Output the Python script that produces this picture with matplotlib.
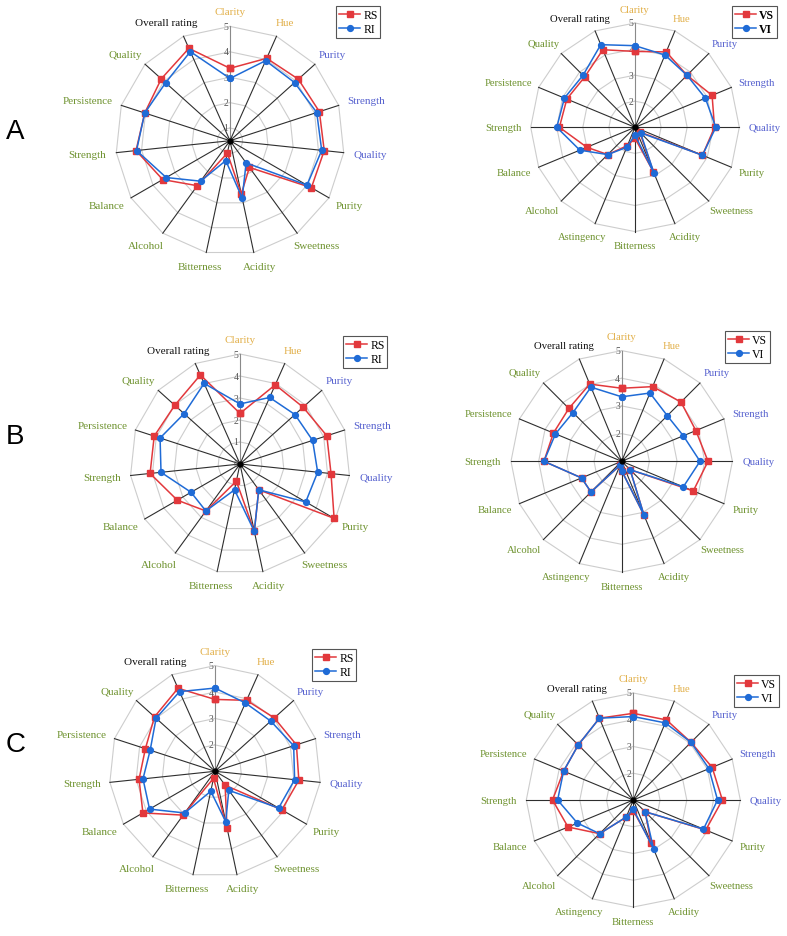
import numpy as np
import matplotlib
matplotlib.use('Agg')
import matplotlib.pyplot as plt
from matplotlib.transforms import offset_copy

W, H = 787, 937
fig = plt.figure(figsize=(W / 100, H / 100), dpi=100)
renderer = fig.canvas.get_renderer()

SERIF = ['Liberation Serif', 'DejaVu Serif']

# ---------------- data ----------------
cats_left = ["Clarity", "Hue", "Purity", "Strength", "Quality", "Purity", "Sweetness",
             "Acidity", "Bitterness", "Alcohol", "Balance", "Strength", "Persistence",
             "Quality", "Overall rating"]
cats_right = ["Clarity", "Hue", "Purity", "Strength", "Quality", "Purity", "Sweetness",
              "Acidity", "Bitterness", "Astingency", "Alcohol", "Balance", "Strength",
              "Persistence", "Quality", "Overall rating"]

A_RS = [3.35, 4.05, 4.12, 4.20, 4.23, 4.20, 1.80, 2.64, 1.00, 2.69, 3.56, 4.22, 4.03, 4.14, 4.48]
A_RI = [2.95, 3.95, 3.92, 4.09, 4.13, 4.00, 1.58, 2.81, 1.30, 2.47, 3.40, 4.20, 4.03, 3.91, 4.34]
A_VS = [3.91, 4.13, 3.82, 4.20, 4.05, 3.80, 1.25, 2.85, 1.42, 1.76, 2.48, 3.00, 3.90, 3.83, 3.73, 4.22]
A_VI = [4.13, 4.00, 3.82, 3.92, 4.10, 3.80, 1.30, 2.91, 1.30, 1.83, 2.48, 3.29, 4.00, 3.93, 3.82, 4.43]

B_RS = [2.30, 3.94, 3.86, 4.15, 4.16, 4.94, 1.45, 3.13, 0.80, 2.64, 3.29, 4.11, 4.10, 3.99, 4.43]
B_RI = [2.73, 3.31, 3.36, 3.47, 3.55, 3.45, 1.45, 3.13, 1.20, 2.64, 2.57, 3.61, 3.82, 3.42, 4.01]
B_VS = [3.64, 3.92, 4.03, 3.90, 4.12, 3.80, 1.43, 3.10, 1.34, 1.15, 2.57, 2.57, 3.81, 3.67, 3.70, 4.02]
B_VI = [3.33, 3.67, 3.33, 3.41, 3.83, 3.41, 1.43, 3.10, 1.34, 1.15, 2.57, 2.57, 3.81, 3.59, 3.49, 3.90]

C_RS = [3.72, 3.94, 4.02, 4.24, 4.19, 3.92, 1.65, 3.19, 1.27, 3.05, 4.15, 3.89, 3.77, 4.08, 4.44]
C_RI = [4.15, 3.83, 3.84, 4.13, 4.03, 3.78, 1.89, 2.95, 1.77, 2.95, 3.86, 3.74, 3.58, 4.00, 4.30]
C_VS = [4.24, 4.24, 4.05, 4.19, 4.33, 3.93, 1.62, 2.75, 1.40, 1.69, 2.78, 3.64, 4.02, 3.82, 3.91, 4.31]
C_VI = [4.12, 4.12, 4.05, 4.06, 4.15, 3.84, 1.62, 2.99, 1.34, 1.69, 2.78, 3.26, 3.83, 3.82, 3.91, 4.31]

names_R = ["RS", "RI"]
names_V = ["VS", "VI"]

GOLD, VIOLET, OLIVE, BLACK = '#E2B04A', '#5661CF', '#6F9330', '#111111'
colors_left = [GOLD, GOLD, VIOLET, VIOLET, VIOLET] + [OLIVE] * 9 + [BLACK]
colors_right = [GOLD, GOLD, VIOLET, VIOLET, VIOLET] + [OLIVE] * 10 + [BLACK]

RED, BLUE = '#E2383C', '#1F6BD6'


def radar(cx, cy, R, cats, cat_colors, s1, s2, names, rmin, tick_vals,
          leg_xy, bold_legend=False, fs=8):
    ax = fig.add_axes([(cx - R) / W, 1 - (cy + R) / H, 2 * R / W, 2 * R / H],
                      projection='polar')
    ax.set_theta_zero_location('N')
    ax.set_theta_direction(-1)
    ax.set_ylim(rmin, 5)
    ax.set_xticks([])
    ax.set_yticks([])
    ax.grid(False)
    ax.spines['polar'].set_visible(False)
    ax.patch.set_alpha(0)

    n = len(cats)
    theta = np.arange(n) * 2 * np.pi / n
    tc = np.append(theta, theta[0])

    # polygon rings
    rings = [v for v in range(1, 6) if v > rmin]
    for rv in rings:
        ax.plot(tc, [rv] * (n + 1), color='#cdcdcd', lw=0.8, zorder=1, clip_on=False)
    # spokes
    for i, t in enumerate(theta):
        ax.plot([t, t], [rmin, 5], color='#8a8a8a' if i == 0 else '#2e2e2e',
                lw=0.8, zorder=2, clip_on=False)

    # tick labels on the first spoke
    tr = offset_copy(ax.transData, fig=fig, x=-1.5, y=0, units='dots')
    for tv in tick_vals:
        ax.text(0, tv, str(tv), transform=tr, ha='right', va='center',
                fontsize=7, color='#555555', family=SERIF, zorder=3)

    # data
    v1 = np.append(s1, s1[0])
    v2 = np.append(s2, s2[0])
    l1, = ax.plot(tc, v1, color=RED, lw=1.1, marker='s', ms=3.7, zorder=5, clip_on=False)
    l2, = ax.plot(tc, v2, color=BLUE, lw=1.1, marker='o', ms=4.2, zorder=6, clip_on=False)
    ax.plot([0], [rmin], 'o', color='black', ms=3.5, zorder=7, clip_on=False)

    # category labels
    r_anchor = rmin + 1.09 * (5 - rmin)
    for t, lab, col in zip(theta, cats, cat_colors):
        txt = ax.text(t, r_anchor, lab, ha='center', va='center', fontsize=fs,
                      color=col, family=SERIF, clip_on=False)
        bb = txt.get_window_extent(renderer)
        dx = np.sin(t) * bb.width / 2
        dy = np.cos(t) * bb.height / 2
        txt.set_transform(offset_copy(ax.transData, fig=fig, x=dx, y=dy, units='dots'))

    prop = {'family': SERIF, 'size': 8.5}
    if bold_legend:
        prop['weight'] = 'bold'
    leg = ax.legend([l1, l2], names, loc='upper left',
                    bbox_to_anchor=(leg_xy[0] / W, 1 - leg_xy[1] / H),
                    bbox_transform=fig.transFigure, frameon=True, fancybox=False,
                    edgecolor='#555555', framealpha=1, prop=prop, handlelength=1.8,
                    handletextpad=0.25, borderpad=0.25, labelspacing=0.15,
                    borderaxespad=0)
    leg.get_frame().set_linewidth(0.8)
    return ax


radar(230, 141.7, 114.3, cats_left, colors_left, A_RS, A_RI, names_R, 0.5,
      [1, 2, 3, 4, 5], (336, 7))
radar(635, 128.3, 104.3, cats_right, colors_right, A_VS, A_VI, names_V, 1,
      [2, 3, 4, 5], (732, 7), bold_legend=True, fs=7.7)
radar(240, 465, 110, cats_left, colors_left, B_RS, B_RI, names_R, 0,
      [0, 1, 2, 3, 4, 5], (343, 337))
radar(621.7, 462.3, 110.7, cats_right, colors_right, B_VS, B_VI, names_V, 1,
      [2, 3, 4, 5], (725, 332), fs=7.7)
radar(215, 772.3, 105.7, cats_left, colors_left, C_RS, C_RI, names_R, 1,
      [2, 3, 4, 5], (312, 650))
radar(633.3, 801, 107, cats_right, colors_right, C_VS, C_VI, names_V, 1,
      [2, 3, 4, 5], (734, 676), fs=7.7)

for lab, y in [("A", 132), ("B", 437), ("C", 745)]:
    fig.text(15.5 / W, 1 - y / H, lab, fontsize=20, family=['Liberation Sans', 'DejaVu Sans'],
             ha='center', va='center')

fig.savefig('out.png', dpi=100)
